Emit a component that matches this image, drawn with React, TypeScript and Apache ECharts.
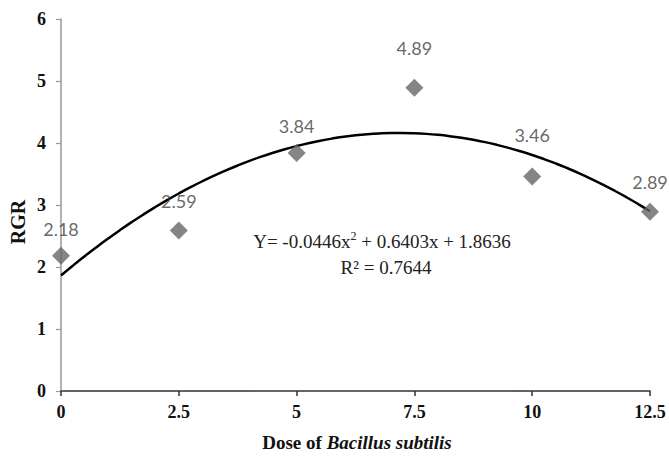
import React, { useEffect, useRef } from "react";
import * as echarts from "echarts";

const doses = [0, 2.5, 5, 7.5, 10, 12.5];
const rgr = [2.18, 2.59, 3.84, 4.89, 3.46, 2.89];
const labelDistances = [9, 11, 9, 22, 23, 12];
const trendCoefficients = [-0.0446, 0.6403, 1.8636]; // a, b, c
const xTicks = ["0", "2.5", "5", "7.5", "10", "12.5"];

const serif = "'Liberation Serif', 'Times New Roman', serif";

export default function App() {
  const ref = useRef<HTMLDivElement>(null);
  useEffect(() => {
    if (!ref.current) return;
    const chart = echarts.init(ref.current, null, { renderer: "svg" });
    const [a, b, c] = trendCoefficients;
    const trend: number[][] = [];
    for (let i = 0; i <= 50; i++) {
      const x = (12.5 * i) / 50;
      trend.push([x, a * x * x + b * x + c]);
    }
    chart.setOption({
      animation: false,
      backgroundColor: "#fff",
      grid: { left: 61, right: 19, top: 19, bottom: 66 },
      xAxis: {
        type: "value",
        min: 0,
        max: 12.5,
        interval: 2.5,
        splitLine: { show: false },
        axisLine: { lineStyle: { color: "#333", width: 1.5 } },
        axisTick: { show: true, length: 5, lineStyle: { color: "#333", width: 1.5 } },
        axisLabel: {
          margin: 12,
          fontFamily: serif,
          fontWeight: "bold",
          fontSize: 18,
          color: "#111",
          formatter: (v: number) => xTicks[Math.round(v / 2.5)] ?? String(v),
        },
      },
      yAxis: {
        type: "value",
        min: 0,
        max: 6,
        interval: 1,
        splitLine: { show: false },
        axisLine: { show: true, lineStyle: { color: "#999", width: 1.5 } },
        axisTick: { show: true, length: 5, lineStyle: { color: "#999", width: 1.2 } },
        axisLabel: {
          margin: 15,
          fontFamily: serif,
          fontWeight: "bold",
          fontSize: 18,
          color: "#111",
        },
      },
      series: [
        {
          type: "line",
          data: trend,
          showSymbol: false,
          smooth: true,
          lineStyle: { color: "#000", width: 2.5 },
          silent: true,
          z: 2,
        },
        {
          type: "scatter",
          symbol: "diamond",
          symbolSize: 18,
          itemStyle: { color: "#666" },
          z: 3,
          data: doses.map((d, i) => ({
            value: [d, rgr[i]],
            label: {
              show: true,
              position: "top",
              distance: labelDistances[i],
              formatter: rgr[i].toFixed(2),
              fontFamily: "Lato, 'Liberation Sans', sans-serif",
              fontSize: 18,
              color: "#404040",
            },
          })),
        },
      ],
      graphic: [
        {
          type: "text",
          x: 18,
          y: 222,
          rotation: Math.PI / 2,
          style: {
            text: "RGR",
            x: 0,
            y: 0,
            align: "center",
            verticalAlign: "middle",
            font: `bold 20px ${serif}`,
            fill: "#111",
          },
        },
        {
          type: "text",
          x: 357,
          y: 442,
          style: {
            text: "{b|Dose of }{i|Bacillus}{i| subtilis}",
            align: "center",
            verticalAlign: "middle",
            rich: {
              b: { fontFamily: serif, fontWeight: "bold", fontSize: 19, fill: "#111" },
              i: { fontFamily: serif, fontWeight: "bold", fontStyle: "italic", fontSize: 19, fill: "#111" },
            },
          },
        },
        {
          type: "text",
          x: 382,
          y: 241,
          style: {
            text: "{t|Y= -0.0446x}{s|2}{t| + 0.6403x + 1.8636}",
            align: "center",
            verticalAlign: "middle",
            rich: {
              t: { fontFamily: serif, fontSize: 19, fill: "#222", height: 22 },
              s: { fontFamily: serif, fontSize: 12, fill: "#222", verticalAlign: "top", padding: [0, 0, 9, 0] },
            },
          },
        },
        {
          type: "text",
          x: 386,
          y: 267,
          style: {
            text: "R² = 0.7644",
            align: "center",
            verticalAlign: "middle",
            font: `19px ${serif}`,
            fill: "#222",
          },
        },
      ],
    });
    return () => chart.dispose();
  }, []);
  return (
    <div
      ref={ref}
      style={{ position: "fixed", left: 0, top: 0, width: 669, height: 457 }}
    />
  );
}
